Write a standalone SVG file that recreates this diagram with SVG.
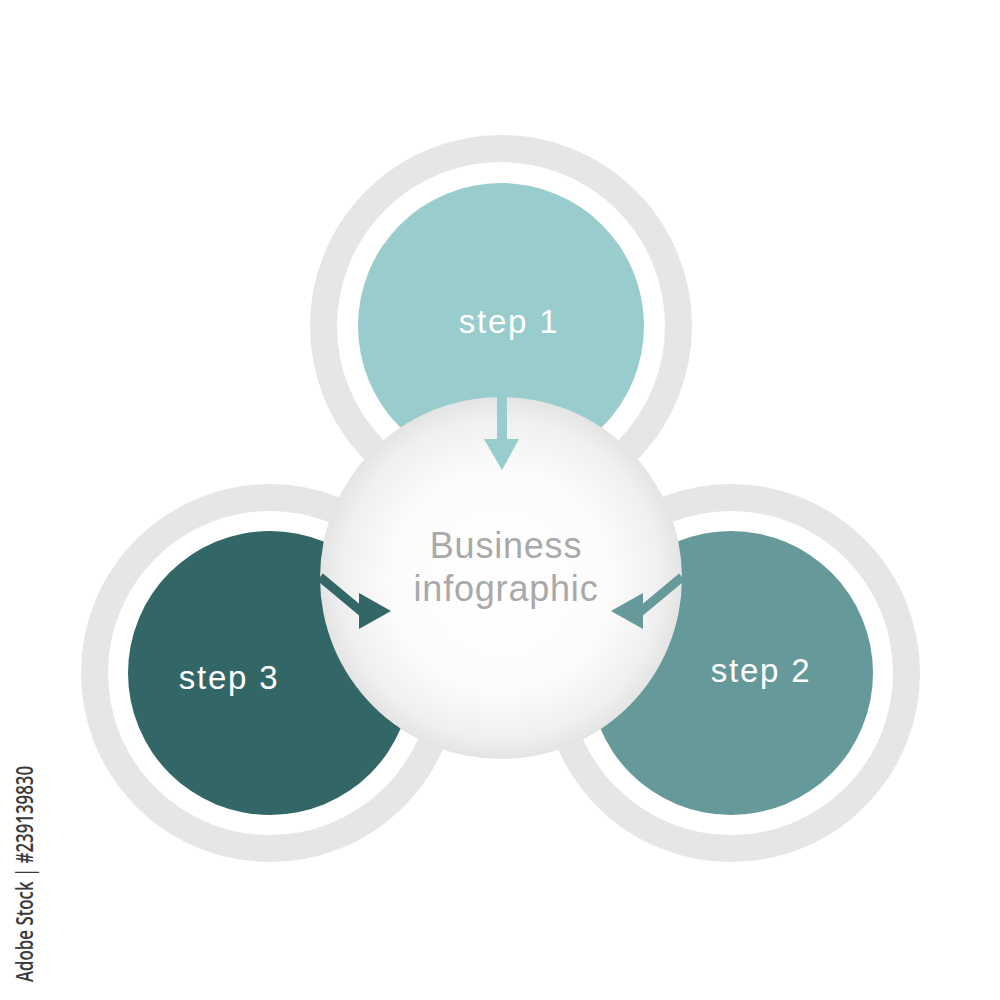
<svg xmlns="http://www.w3.org/2000/svg" width="1000" height="1000" viewBox="0 0 1000 1000">
  <defs>
    <radialGradient id="ballGrad" cx="50%" cy="50%" r="50%" fx="50%" fy="52%">
      <stop offset="0" stop-color="#ffffff"/>
      <stop offset="0.6" stop-color="#fcfcfc"/>
      <stop offset="0.88" stop-color="#f0f0f0"/>
      <stop offset="1" stop-color="#e4e4e4"/>
    </radialGradient>
  </defs>
  <style>
    .ring { fill: none; stroke: #e6e6e6; stroke-width: 27; }
    .step { font-family: "Liberation Sans", Arial, sans-serif; font-size: 33px; fill: #ffffff; text-anchor: middle; letter-spacing: 1.8px; }
    .center-text { font-family: "Liberation Sans", Arial, sans-serif; font-size: 36px; fill: #a9a9a9; text-anchor: middle; letter-spacing: 0.8px; }
    .stock { font-family: "Open Sans", "Liberation Sans", sans-serif; font-size: 23px; font-weight: 600; fill: #3a3a3a; }
  </style>
  <rect width="1000" height="1000" fill="#ffffff"/>

  <g id="step1">
    <circle class="ring" cx="501" cy="326" r="177.5"/>
    <circle cx="501" cy="326" r="143" fill="#99cccc"/>
    <text class="step" x="509" y="333">step 1</text>
  </g>

  <g id="step3">
    <circle class="ring" cx="270" cy="673" r="175.5"/>
    <circle cx="270" cy="673" r="142" fill="#336666"/>
    <text class="step" x="229" y="689">step 3</text>
  </g>

  <g id="step2">
    <circle class="ring" cx="731" cy="673" r="175.5"/>
    <circle cx="731" cy="673" r="142" fill="#669999"/>
    <text class="step" x="761" y="682">step 2</text>
  </g>

  <g id="center">
    <circle cx="501" cy="578" r="181" fill="url(#ballGrad)"/>
    <text class="center-text" x="506" y="558">Business</text>
    <text class="center-text" x="506" y="601">infographic</text>
  </g>

  <g id="connectors">
    <rect x="497" y="396" width="10" height="44" fill="#99cccc"/>
    <polygon points="484,439 519,439 502,470" fill="#99cccc"/>
    <line x1="320" y1="577" x2="362" y2="612" stroke="#336666" stroke-width="9"/>
    <polygon points="359,593 359,629 391,611" fill="#336666"/>
    <line x1="682" y1="577" x2="640" y2="612" stroke="#669999" stroke-width="9"/>
    <polygon points="643,593 643,629 611,611" fill="#669999"/>
  </g>

  <text class="stock" transform="translate(33,982) rotate(-90)" x="0" y="0" textLength="216" lengthAdjust="spacingAndGlyphs">Adobe Stock | #239139830</text>
</svg>
